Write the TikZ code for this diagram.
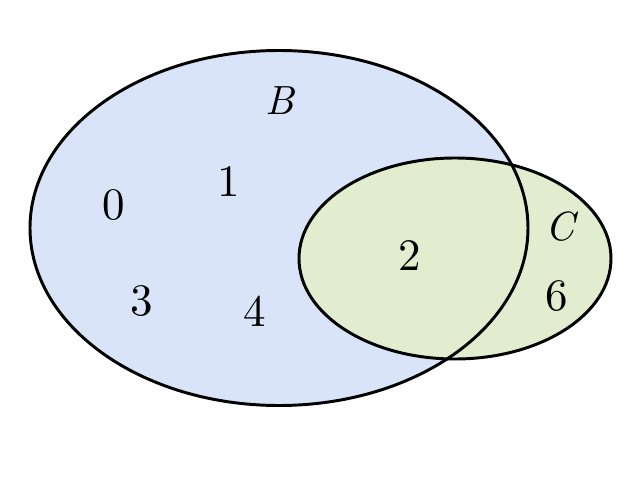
\documentclass[tikz,border=0pt]{standalone}
\usepackage{fontspec}
\setmainfont{lmroman10-regular.otf}[ItalicFont=lmroman10-italic.otf]
\definecolor{setB}{HTML}{DAE4F8}
\definecolor{setC}{HTML}{E2EDD0}
\begin{document}
\begin{tikzpicture}[x=0.025cm,y=-0.025cm,
  setline/.style={line width=2.1pt},
  lbl/.style={inner sep=0pt,font=\fontsize{32}{38}\selectfont},
  setname/.style={inner sep=0pt,font=\fontsize{29}{34}\selectfont\itshape}]
\useasboundingbox (0,0) rectangle (640,480);
\fill[setB] (279,228) ellipse [x radius=249, y radius=177.5];
\fill[setC] (455,258.5) ellipse [x radius=156, y radius=100.5];
\draw[setline] (279,228) ellipse [x radius=249, y radius=177.5];
\draw[setline] (455,258.5) ellipse [x radius=156, y radius=100.5];
\node[setname] (lB) at (280,100.5) {B};
\node[setname] (lC) at (560,227) {C};
\node[lbl] (n0) at (114,205) {0};
\node[lbl] (n1) at (229,182) {1};
\node[lbl] (n2) at (410,255.5) {2};
\node[lbl] (n3) at (142,301) {3};
\node[lbl] (n4) at (255,311) {4};
\node[lbl] (n6) at (557,296) {6};
\end{tikzpicture}
\end{document}
